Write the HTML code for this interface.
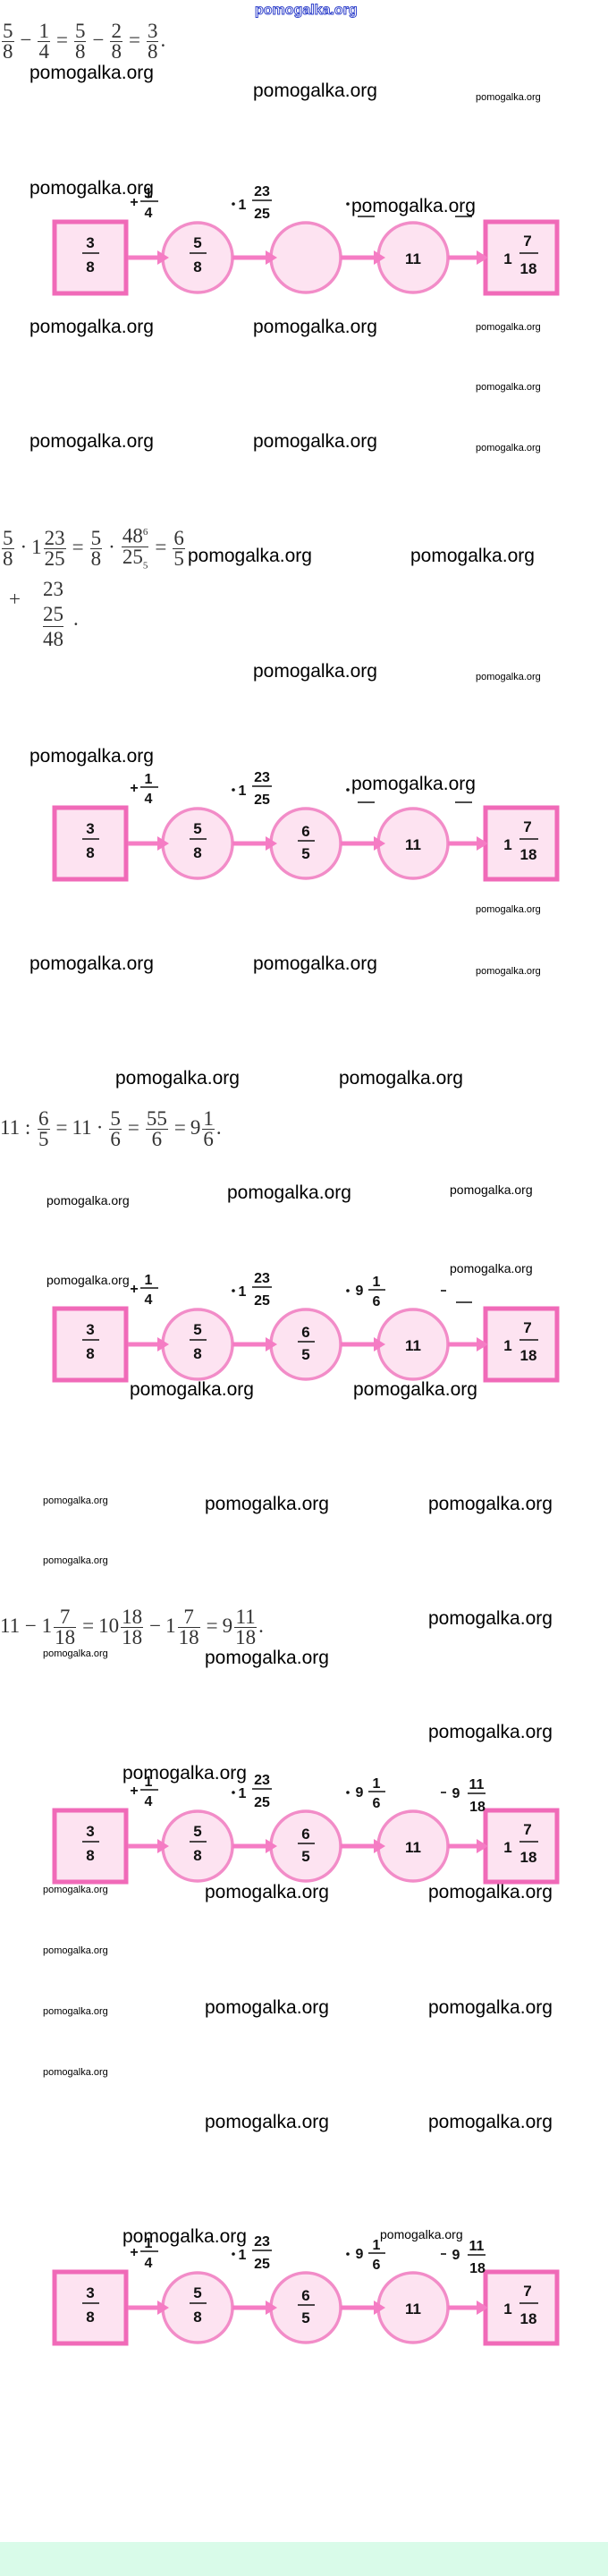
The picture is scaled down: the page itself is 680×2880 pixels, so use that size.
<!DOCTYPE html>
<html><head><meta charset="utf-8">
<style>
html,body{margin:0;padding:0;background:#fff}
body{position:relative;width:680px;height:2880px;overflow:hidden;font-family:"Liberation Sans",sans-serif}
.w{position:absolute;color:#000;line-height:1;white-space:nowrap}
.L{font-size:21px}
.M{font-size:14px}
.S{font-size:11px}
.eq{position:absolute;left:0;font-family:"Liberation Serif",serif;font-size:23px;color:#333;white-space:nowrap;line-height:1}
.f{display:inline-block;vertical-align:middle;text-align:center;margin:0 2px}
.f span{display:block;line-height:22px;padding:0 1px}
.f span:first-child{border-bottom:1px solid #333}
.op{margin:0 5px}
svg{position:absolute;left:0}
svg text{font-family:"Liberation Sans",sans-serif;font-weight:bold;fill:#111;text-anchor:middle}
</style></head><body>

<div class="w" style="left:285px;top:4px;font-size:16px;color:#fff;-webkit-text-stroke:1px #3344cc;font-weight:bold">pomogalka.org</div>

<div class="eq" style="top:24px">
<span class="f"><span>5</span><span>8</span></span><span class="op">−</span><span class="f"><span>1</span><span>4</span></span><span class="op">=</span><span class="f"><span>5</span><span>8</span></span><span class="op">−</span><span class="f"><span>2</span><span>8</span></span><span class="op">=</span><span class="f"><span>3</span><span>8</span></span>.
</div>

<div class="w L" style="left:33px;top:71px">pomogalka.org</div>
<div class="w L" style="left:283px;top:91px">pomogalka.org</div>
<div class="w S" style="left:532px;top:104px">pomogalka.org</div>

<div class="w L" style="left:33px;top:355px">pomogalka.org</div>
<div class="w L" style="left:283px;top:355px">pomogalka.org</div>
<div class="w S" style="left:532px;top:361px">pomogalka.org</div>
<div class="w S" style="left:532px;top:428px">pomogalka.org</div>
<div class="w L" style="left:33px;top:483px">pomogalka.org</div>
<div class="w L" style="left:283px;top:483px">pomogalka.org</div>
<div class="w S" style="left:532px;top:496px">pomogalka.org</div>

<div class="eq" style="top:584px">
<span class="f"><span>5</span><span>8</span></span><span class="op">·</span>1<span class="f"><span>23</span><span>25</span></span><span class="op">=</span><span class="f"><span>5</span><span>8</span></span><span class="op">·</span><span class="f"><span>48<sup style="font-size:11px">6</sup></span><span>25<sub style="font-size:11px">5</sub></span></span><span class="op">=</span><span class="f"><span>6</span><span>5</span></span>
</div>
<div class="eq" style="left:10px;top:658px">+</div>
<div class="eq" style="left:48px;top:645px;line-height:28px">23<br>25</div>
<div class="eq" style="left:48px;top:700px;border-top:1px solid #333;padding-top:2px">48</div>
<div class="eq" style="left:82px;top:680px">.</div>
<div class="w L" style="left:210px;top:611px">pomogalka.org</div>
<div class="w L" style="left:459px;top:611px">pomogalka.org</div>
<div class="w L" style="left:283px;top:740px">pomogalka.org</div>
<div class="w S" style="left:532px;top:752px">pomogalka.org</div>
<div class="w L" style="left:33px;top:835px">pomogalka.org</div>

<div class="w S" style="left:532px;top:1012px">pomogalka.org</div>
<div class="w L" style="left:33px;top:1067px">pomogalka.org</div>
<div class="w L" style="left:283px;top:1067px">pomogalka.org</div>
<div class="w S" style="left:532px;top:1081px">pomogalka.org</div>

<div class="w L" style="left:129px;top:1195px">pomogalka.org</div>
<div class="w L" style="left:379px;top:1195px">pomogalka.org</div>

<div class="eq" style="top:1240px">11 : <span class="f"><span>6</span><span>5</span></span><span class="op">=</span>11<span class="op">·</span><span class="f"><span>5</span><span>6</span></span><span class="op">=</span><span class="f"><span>55</span><span>6</span></span><span class="op">=</span>9<span class="f"><span>1</span><span>6</span></span>.</div>

<div class="w M" style="left:52px;top:1335px">pomogalka.org</div>
<div class="w L" style="left:254px;top:1323px">pomogalka.org</div>
<div class="w M" style="left:503px;top:1323px">pomogalka.org</div>
<div class="w M" style="left:52px;top:1424px">pomogalka.org</div>
<div class="w M" style="left:503px;top:1411px">pomogalka.org</div>
<div class="w L" style="left:145px;top:1543px">pomogalka.org</div>
<div class="w L" style="left:395px;top:1543px">pomogalka.org</div>

<div class="w S" style="left:48px;top:1673px">pomogalka.org</div>
<div class="w L" style="left:229px;top:1671px">pomogalka.org</div>
<div class="w L" style="left:479px;top:1671px">pomogalka.org</div>
<div class="w S" style="left:48px;top:1740px">pomogalka.org</div>

<div class="eq" style="top:1797px">11 − 1<span class="f"><span>7</span><span>18</span></span><span class="op">=</span>10<span class="f"><span>18</span><span>18</span></span><span class="op">−</span>1<span class="f"><span>7</span><span>18</span></span><span class="op">=</span>9<span class="f"><span>11</span><span>18</span></span>.</div>
<div class="w L" style="left:479px;top:1799px">pomogalka.org</div>
<div class="w S" style="left:48px;top:1844px">pomogalka.org</div>
<div class="w L" style="left:229px;top:1843px">pomogalka.org</div>
<div class="w L" style="left:479px;top:1926px">pomogalka.org</div>
<div class="w S" style="left:48px;top:2108px">pomogalka.org</div>
<div class="w L" style="left:229px;top:2105px">pomogalka.org</div>
<div class="w L" style="left:479px;top:2105px">pomogalka.org</div>

<div class="w S" style="left:48px;top:2176px">pomogalka.org</div>
<div class="w S" style="left:48px;top:2244px">pomogalka.org</div>
<div class="w L" style="left:229px;top:2234px">pomogalka.org</div>
<div class="w L" style="left:479px;top:2234px">pomogalka.org</div>
<div class="w S" style="left:48px;top:2312px">pomogalka.org</div>
<div class="w L" style="left:229px;top:2362px">pomogalka.org</div>
<div class="w L" style="left:479px;top:2362px">pomogalka.org</div>

<!-- D1 -->
<svg style="top:197px" width="680" height="140" viewBox="0 -50 680 140">
<g fill="#fde3f1" stroke="#f06ab8" stroke-width="5"><rect x="61" y="1" width="80" height="80"/><rect x="543" y="1" width="80" height="80"/></g>
<g fill="#fde3f1" stroke="#f28cc8" stroke-width="3.5"><circle cx="221" cy="41" r="39"/><circle cx="342" cy="41" r="39"/><circle cx="462" cy="41" r="39"/></g>
<g stroke="#f57cc4" stroke-width="5"><line x1="143" y1="41" x2="178" y2="41"/><line x1="260" y1="41" x2="300" y2="41"/><line x1="381" y1="41" x2="420" y2="41"/><line x1="501" y1="41" x2="535" y2="41"/></g>
<g fill="#f57cc4"><polygon points="176,33 189,41 176,49"/><polygon points="297,33 310,41 297,49"/><polygon points="418,33 431,41 418,49"/><polygon points="533,33 546,41 533,49"/></g>
<g font-size="17"><text x="101" y="30">3</text><text x="101" y="57">8</text><text x="221" y="30">5</text><text x="221" y="57">8</text><text x="462" y="48">11</text><text x="568" y="48">1</text><text x="590" y="28">7</text><text x="591" y="59">18</text></g>
<g stroke="#111" stroke-width="1.6"><line x1="92" y1="36" x2="111" y2="36"/><line x1="212" y1="36" x2="231" y2="36"/><line x1="581" y1="36" x2="602" y2="36"/></g>
<g font-size="16"><text x="150" y="-16">+</text><text x="166" y="-26">1</text><text x="166" y="-4">4</text><text x="271" y="-13">1</text><text x="293" y="-28">23</text><text x="293" y="-3">25</text></g>
<g stroke="#111" stroke-width="1.6"><line x1="157" y1="-22" x2="177" y2="-22"/><line x1="282" y1="-23" x2="304" y2="-23"/><line x1="400" y1="-5" x2="419" y2="-5"/><line x1="509" y1="-5" x2="528" y2="-5"/></g>
<circle cx="261" cy="-19" r="1.8" fill="#111"/><circle cx="389" cy="-19" r="1.8" fill="#111"/>
</svg>
<div class="w L" style="left:33px;top:200px">pomogalka.org</div>
<div class="w L" style="left:393px;top:220px">pomogalka.org</div>

<!-- D2 -->
<svg style="top:852px" width="680" height="140" viewBox="0 -50 680 140">
<g fill="#fde3f1" stroke="#f06ab8" stroke-width="5"><rect x="61" y="1" width="80" height="80"/><rect x="543" y="1" width="80" height="80"/></g>
<g fill="#fde3f1" stroke="#f28cc8" stroke-width="3.5"><circle cx="221" cy="41" r="39"/><circle cx="342" cy="41" r="39"/><circle cx="462" cy="41" r="39"/></g>
<g stroke="#f57cc4" stroke-width="5"><line x1="143" y1="41" x2="178" y2="41"/><line x1="260" y1="41" x2="300" y2="41"/><line x1="381" y1="41" x2="420" y2="41"/><line x1="501" y1="41" x2="535" y2="41"/></g>
<g fill="#f57cc4"><polygon points="176,33 189,41 176,49"/><polygon points="297,33 310,41 297,49"/><polygon points="418,33 431,41 418,49"/><polygon points="533,33 546,41 533,49"/></g>
<g font-size="17"><text x="101" y="30">3</text><text x="101" y="57">8</text><text x="221" y="30">5</text><text x="221" y="57">8</text><text x="342" y="33">6</text><text x="342" y="58">5</text><text x="462" y="48">11</text><text x="568" y="48">1</text><text x="590" y="28">7</text><text x="591" y="59">18</text></g>
<g stroke="#111" stroke-width="1.6"><line x1="92" y1="36" x2="111" y2="36"/><line x1="212" y1="36" x2="231" y2="36"/><line x1="333" y1="38" x2="352" y2="38"/><line x1="581" y1="36" x2="602" y2="36"/></g>
<g font-size="16"><text x="150" y="-16">+</text><text x="166" y="-26">1</text><text x="166" y="-4">4</text><text x="271" y="-13">1</text><text x="293" y="-28">23</text><text x="293" y="-3">25</text></g>
<g stroke="#111" stroke-width="1.6"><line x1="157" y1="-22" x2="177" y2="-22"/><line x1="282" y1="-23" x2="304" y2="-23"/><line x1="400" y1="-5" x2="419" y2="-5"/><line x1="509" y1="-5" x2="528" y2="-5"/></g>
<circle cx="261" cy="-19" r="1.8" fill="#111"/><circle cx="389" cy="-19" r="1.8" fill="#111"/>
</svg>
<div class="w L" style="left:393px;top:866px">pomogalka.org</div>

<!-- D3 -->
<svg style="top:1412px" width="680" height="140" viewBox="0 -50 680 140">
<g fill="#fde3f1" stroke="#f06ab8" stroke-width="5"><rect x="61" y="1" width="80" height="80"/><rect x="543" y="1" width="80" height="80"/></g>
<g fill="#fde3f1" stroke="#f28cc8" stroke-width="3.5"><circle cx="221" cy="41" r="39"/><circle cx="342" cy="41" r="39"/><circle cx="462" cy="41" r="39"/></g>
<g stroke="#f57cc4" stroke-width="5"><line x1="143" y1="41" x2="178" y2="41"/><line x1="260" y1="41" x2="300" y2="41"/><line x1="381" y1="41" x2="420" y2="41"/><line x1="501" y1="41" x2="535" y2="41"/></g>
<g fill="#f57cc4"><polygon points="176,33 189,41 176,49"/><polygon points="297,33 310,41 297,49"/><polygon points="418,33 431,41 418,49"/><polygon points="533,33 546,41 533,49"/></g>
<g font-size="17"><text x="101" y="30">3</text><text x="101" y="57">8</text><text x="221" y="30">5</text><text x="221" y="57">8</text><text x="342" y="33">6</text><text x="342" y="58">5</text><text x="462" y="48">11</text><text x="568" y="48">1</text><text x="590" y="28">7</text><text x="591" y="59">18</text></g>
<g stroke="#111" stroke-width="1.6"><line x1="92" y1="36" x2="111" y2="36"/><line x1="212" y1="36" x2="231" y2="36"/><line x1="333" y1="38" x2="352" y2="38"/><line x1="581" y1="36" x2="602" y2="36"/></g>
<g font-size="16"><text x="150" y="-16">+</text><text x="166" y="-26">1</text><text x="166" y="-4">4</text><text x="271" y="-13">1</text><text x="293" y="-28">23</text><text x="293" y="-3">25</text><text x="402" y="-14">9</text><text x="421" y="-24">1</text><text x="421" y="-2">6</text></g>
<g stroke="#111" stroke-width="1.6"><line x1="157" y1="-22" x2="177" y2="-22"/><line x1="282" y1="-23" x2="304" y2="-23"/><line x1="412" y1="-20" x2="431" y2="-20"/><line x1="493" y1="-19" x2="499" y2="-19"/><line x1="510" y1="-6" x2="528" y2="-6"/></g>
<circle cx="261" cy="-19" r="1.8" fill="#111"/><circle cx="389" cy="-19" r="1.8" fill="#111"/>
</svg>

<!-- D4 -->
<svg style="top:1973px" width="680" height="140" viewBox="0 -50 680 140">
<g fill="#fde3f1" stroke="#f06ab8" stroke-width="5"><rect x="61" y="1" width="80" height="80"/><rect x="543" y="1" width="80" height="80"/></g>
<g fill="#fde3f1" stroke="#f28cc8" stroke-width="3.5"><circle cx="221" cy="41" r="39"/><circle cx="342" cy="41" r="39"/><circle cx="462" cy="41" r="39"/></g>
<g stroke="#f57cc4" stroke-width="5"><line x1="143" y1="41" x2="178" y2="41"/><line x1="260" y1="41" x2="300" y2="41"/><line x1="381" y1="41" x2="420" y2="41"/><line x1="501" y1="41" x2="535" y2="41"/></g>
<g fill="#f57cc4"><polygon points="176,33 189,41 176,49"/><polygon points="297,33 310,41 297,49"/><polygon points="418,33 431,41 418,49"/><polygon points="533,33 546,41 533,49"/></g>
<g font-size="17"><text x="101" y="30">3</text><text x="101" y="57">8</text><text x="221" y="30">5</text><text x="221" y="57">8</text><text x="342" y="33">6</text><text x="342" y="58">5</text><text x="462" y="48">11</text><text x="568" y="48">1</text><text x="590" y="28">7</text><text x="591" y="59">18</text></g>
<g stroke="#111" stroke-width="1.6"><line x1="92" y1="36" x2="111" y2="36"/><line x1="212" y1="36" x2="231" y2="36"/><line x1="333" y1="38" x2="352" y2="38"/><line x1="581" y1="36" x2="602" y2="36"/></g>
<g font-size="16"><text x="150" y="-16">+</text><text x="166" y="-26">1</text><text x="166" y="-4">4</text><text x="271" y="-13">1</text><text x="293" y="-28">23</text><text x="293" y="-3">25</text><text x="402" y="-14">9</text><text x="421" y="-24">1</text><text x="421" y="-2">6</text><text x="510" y="-13">9</text><text x="533" y="-23">11</text><text x="534" y="2">18</text></g>
<g stroke="#111" stroke-width="1.6"><line x1="157" y1="-22" x2="177" y2="-22"/><line x1="282" y1="-23" x2="304" y2="-23"/><line x1="412" y1="-20" x2="431" y2="-20"/><line x1="493" y1="-19" x2="499" y2="-19"/><line x1="523" y1="-18" x2="543" y2="-18"/></g>
<circle cx="261" cy="-19" r="1.8" fill="#111"/><circle cx="389" cy="-19" r="1.8" fill="#111"/>
</svg>
<div class="w L" style="left:137px;top:1972px">pomogalka.org</div>

<!-- D5 -->
<svg style="top:2489px" width="680" height="140" viewBox="0 -50 680 140">
<g fill="#fde3f1" stroke="#f06ab8" stroke-width="5"><rect x="61" y="1" width="80" height="80"/><rect x="543" y="1" width="80" height="80"/></g>
<g fill="#fde3f1" stroke="#f28cc8" stroke-width="3.5"><circle cx="221" cy="41" r="39"/><circle cx="342" cy="41" r="39"/><circle cx="462" cy="41" r="39"/></g>
<g stroke="#f57cc4" stroke-width="5"><line x1="143" y1="41" x2="178" y2="41"/><line x1="260" y1="41" x2="300" y2="41"/><line x1="381" y1="41" x2="420" y2="41"/><line x1="501" y1="41" x2="535" y2="41"/></g>
<g fill="#f57cc4"><polygon points="176,33 189,41 176,49"/><polygon points="297,33 310,41 297,49"/><polygon points="418,33 431,41 418,49"/><polygon points="533,33 546,41 533,49"/></g>
<g font-size="17"><text x="101" y="30">3</text><text x="101" y="57">8</text><text x="221" y="30">5</text><text x="221" y="57">8</text><text x="342" y="33">6</text><text x="342" y="58">5</text><text x="462" y="48">11</text><text x="568" y="48">1</text><text x="590" y="28">7</text><text x="591" y="59">18</text></g>
<g stroke="#111" stroke-width="1.6"><line x1="92" y1="36" x2="111" y2="36"/><line x1="212" y1="36" x2="231" y2="36"/><line x1="333" y1="38" x2="352" y2="38"/><line x1="581" y1="36" x2="602" y2="36"/></g>
<g font-size="16"><text x="150" y="-16">+</text><text x="166" y="-26">1</text><text x="166" y="-4">4</text><text x="271" y="-13">1</text><text x="293" y="-28">23</text><text x="293" y="-3">25</text><text x="402" y="-14">9</text><text x="421" y="-24">1</text><text x="421" y="-2">6</text><text x="510" y="-13">9</text><text x="533" y="-23">11</text><text x="534" y="2">18</text></g>
<g stroke="#111" stroke-width="1.6"><line x1="157" y1="-22" x2="177" y2="-22"/><line x1="282" y1="-23" x2="304" y2="-23"/><line x1="412" y1="-20" x2="431" y2="-20"/><line x1="493" y1="-19" x2="499" y2="-19"/><line x1="523" y1="-18" x2="543" y2="-18"/></g>
<circle cx="261" cy="-19" r="1.8" fill="#111"/><circle cx="389" cy="-19" r="1.8" fill="#111"/>
</svg>
<div class="w L" style="left:137px;top:2490px">pomogalka.org</div>
<div class="w M" style="left:425px;top:2491px">pomogalka.org</div>

<div style="position:absolute;left:0;top:2842px;width:680px;height:38px;background:#d9fbe9"></div>
</body></html>
